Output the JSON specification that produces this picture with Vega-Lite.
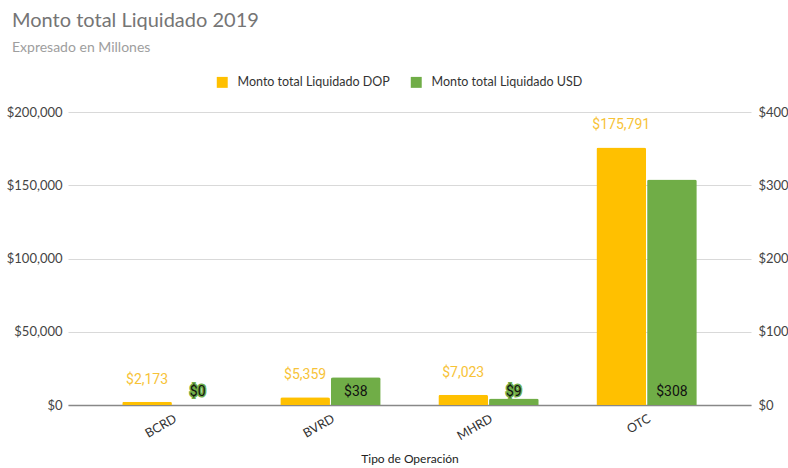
{
  "$schema": "https://vega.github.io/schema/vega-lite/v6.json",
  "width": 683,
  "height": 293,
  "autosize": {"type": "none"},
  "padding": {"left": 68, "top": 112, "right": 37, "bottom": 63},
  "background": "white",
  "title": {
    "text": "Monto total Liquidado 2019",
    "subtitle": "Expresado en Millones",
    "anchor": "start",
    "frame": "group",
    "dx": -56,
    "font": "Lato",
    "fontSize": 20,
    "fontWeight": "normal",
    "color": "#757575",
    "subtitleFont": "Lato",
    "subtitleFontSize": 14,
    "subtitleColor": "#9e9e9e",
    "subtitlePadding": 10,
    "offset": 21
  },
  "config": {
    "view": {"stroke": null},
    "axis": {"labelFont": "Lato", "titleFont": "Lato"},
    "legend": {"labelFont": "Lato"}
  },
  "data": {
    "values": [
      {"cat": "BCRD", "serie": "Monto total Liquidado DOP", "cur": "DOP", "value": 2173},
      {"cat": "BVRD", "serie": "Monto total Liquidado DOP", "cur": "DOP", "value": 5359},
      {"cat": "MHRD", "serie": "Monto total Liquidado DOP", "cur": "DOP", "value": 7023},
      {"cat": "OTC", "serie": "Monto total Liquidado DOP", "cur": "DOP", "value": 175791},
      {"cat": "BCRD", "serie": "Monto total Liquidado USD", "cur": "USD", "value": 0},
      {"cat": "BVRD", "serie": "Monto total Liquidado USD", "cur": "USD", "value": 38},
      {"cat": "MHRD", "serie": "Monto total Liquidado USD", "cur": "USD", "value": 9},
      {"cat": "OTC", "serie": "Monto total Liquidado USD", "cur": "USD", "value": 308}
    ]
  },
  "encoding": {
    "x": {
      "field": "cat",
      "type": "nominal",
      "sort": ["BCRD", "BVRD", "MHRD", "OTC"],
      "scale": {"paddingInner": 0.365, "paddingOuter": 0.343},
      "axis": {
        "title": "Tipo de Operación",
        "titleFontSize": 12,
        "titleFontWeight": "normal",
        "titleColor": "#222222",
        "titlePadding": 11,
        "labelAngle": -30,
        "labelFontSize": 12.5,
        "labelColor": "#333333",
        "labelPadding": 7,
        "ticks": false,
        "domain": true,
        "domainColor": "#888888",
        "domainWidth": 1.5,
        "grid": false
      }
    },
    "xOffset": {
      "field": "cur",
      "type": "nominal",
      "scale": {"domain": ["DOP", "USD"], "paddingInner": 0.02}
    }
  },
  "layer": [
    {
      "transform": [{"filter": "datum.cur === 'DOP'"}],
      "layer": [
        {
          "mark": {"type": "bar", "cornerRadiusTopLeft": 2, "cornerRadiusTopRight": 2},
          "encoding": {
            "y": {
              "field": "value",
              "type": "quantitative",
              "scale": {"domain": [0, 200000]},
              "axis": {
                "title": null,
                "orient": "left",
                "values": [0, 50000, 100000, 150000, 200000],
                "format": "$,.0f",
                "labelFontSize": 13,
                "labelColor": "#444444",
                "labelPadding": 6,
                "ticks": false,
                "domain": false,
                "gridColor": "#d9d9d9",
                "gridWidth": 1
              }
            },
            "color": {
              "field": "serie",
              "type": "nominal",
              "scale": {
                "domain": ["Monto total Liquidado DOP", "Monto total Liquidado USD"],
                "range": ["#FFC000", "#70AD47"]
              },
              "legend": {
                "title": null,
                "orient": "none",
                "direction": "horizontal",
                "legendX": 148,
                "legendY": -36,
                "symbolType": "square",
                "symbolSize": 120,
                "symbolStrokeWidth": 0,
                "labelFontSize": 12.5,
                "labelColor": "#333333",
                "labelOffset": 9,
                "columnPadding": 20,
                "labelLimit": 300
              }
            }
          }
        },
        {
          "mark": {"type": "text", "font": "Roboto", "fontSize": 14, "color": "#F7C338", "dy": -22, "baseline": "middle"},
          "encoding": {
            "y": {"field": "value", "type": "quantitative"},
            "text": {"field": "value", "type": "quantitative", "format": "$,.0f"}
          }
        }
      ]
    },
    {
      "transform": [{"filter": "datum.cur === 'USD'"}],
      "layer": [
        {
          "mark": {"type": "bar", "cornerRadiusTopLeft": 2, "cornerRadiusTopRight": 2},
          "encoding": {
            "y": {
              "field": "value",
              "type": "quantitative",
              "scale": {"domain": [0, 400]},
              "axis": {
                "title": null,
                "orient": "right",
                "values": [0, 100, 200, 300, 400],
                "format": "$,.0f",
                "labelFontSize": 13,
                "labelColor": "#444444",
                "labelPadding": 7,
                "ticks": false,
                "domain": false,
                "grid": false
              }
            },
            "color": {"field": "serie", "type": "nominal"}
          }
        },
        {
          "mark": {"type": "text", "font": "Roboto", "fontSize": 14, "color": "#70AD47", "stroke": "#70AD47", "strokeWidth": 3, "dy": -13, "baseline": "middle"},
          "encoding": {
            "y": {"datum": 0},
            "text": {"field": "value", "type": "quantitative", "format": "$,.0f"}
          }
        },
        {
          "mark": {"type": "text", "font": "Roboto", "fontSize": 14, "color": "#111111", "dy": -13, "baseline": "middle"},
          "encoding": {
            "y": {"datum": 0},
            "text": {"field": "value", "type": "quantitative", "format": "$,.0f"}
          }
        }
      ]
    }
  ],
  "resolve": {"scale": {"y": "independent"}}
}
